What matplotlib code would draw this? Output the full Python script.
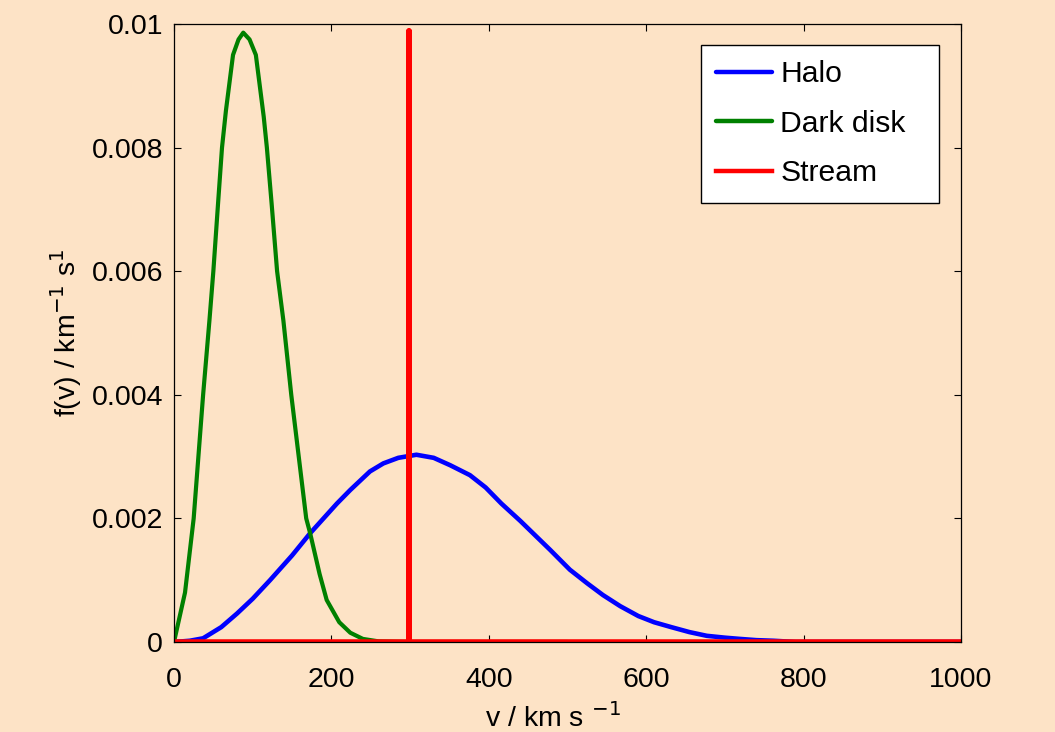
import matplotlib
matplotlib.use("Agg")
import matplotlib.pyplot as plt

# ---- data ----
halo_v = [0, 20, 37, 60, 80, 100, 122, 150, 173, 190, 207, 224, 249, 266, 285,
          308, 330, 351, 376, 396, 416, 440, 461, 478, 503, 525, 545, 567, 590,
          610, 632, 655, 677, 700, 719, 740, 762, 790, 1000]
halo_f = [0, 0.00002, 0.00006, 0.00024, 0.00046, 0.00070, 0.00100, 0.00140,
          0.00176, 0.00200, 0.00224, 0.00246, 0.00276, 0.00289, 0.00298,
          0.00303, 0.00298, 0.00286, 0.00270, 0.00250, 0.00224, 0.00196,
          0.00170, 0.00149, 0.00117, 0.00095, 0.00076, 0.00058, 0.00042,
          0.00032, 0.00024, 0.00016, 0.00010, 0.00007, 0.00005, 0.00003,
          0.00002, 0.0, 0.0]

disk_v = [0, 14, 25, 37, 45, 50, 56, 61, 66, 70, 75, 82, 88, 96, 104, 109, 114,
          118, 124, 131, 139, 149, 168, 173, 185, 194, 210, 224, 240, 260, 300, 500]
disk_f = [0, 0.0008, 0.0020, 0.0040, 0.0052, 0.0060, 0.0071, 0.0080, 0.0086,
          0.0090, 0.0095, 0.00975, 0.00986, 0.00975, 0.0095, 0.0090, 0.0085,
          0.0080, 0.0071, 0.0060, 0.0052, 0.0040, 0.0020, 0.00176, 0.0011,
          0.00068, 0.00032, 0.00015, 0.00005, 0.00001, 0.0, 0.0]

stream_v = [0, 298, 298, 298, 1000]
stream_f = [0, 0, 0.00989, 0, 0]

labels = ["Halo", "Dark disk", "Stream"]
colors = ["#0000ff", "#008000", "#ff0000"]

xticks = [0, 200, 400, 600, 800, 1000]
yticks = [0, 0.002, 0.004, 0.006, 0.008, 0.01]
yticklabels = ["0", "0.002", "0.004", "0.006", "0.008", "0.01"]

bg = "#fde3c6"
plt.rcParams["font.family"] = ["Liberation Sans", "DejaVu Sans"]

fig = plt.figure(figsize=(10.55, 7.32), dpi=100, facecolor=bg)
ax = fig.add_axes([174 / 1055, 90 / 732, 787 / 1055, 618 / 732], facecolor=bg)

ax.plot(halo_v, halo_f, color=colors[0], lw=3.3, label=labels[0],
        solid_joinstyle="round", solid_capstyle="round")
ax.plot(disk_v, disk_f, color=colors[1], lw=3.0, label=labels[1],
        solid_joinstyle="round", solid_capstyle="round")
ax.plot(stream_v, stream_f, color=colors[2], lw=4.0, label=labels[2])

ax.set_xlim(0, 1000)
ax.set_ylim(0, 0.01)
ax.set_xticks(xticks)
ax.set_xticklabels([str(t) for t in xticks])
ax.set_yticks(yticks)
ax.set_yticklabels(yticklabels)

ax.tick_params(direction="in", length=5, width=0.8, top=True, right=True,
               labelsize=20.5, colors="black")
ax.tick_params(axis="x", pad=18)
ax.tick_params(axis="y", pad=8)
for s in ax.spines.values():
    s.set_linewidth(0.9)
    s.set_color("black")

ax.set_xlabel("v / km s $^{-1}$", fontsize=20.5)
ax.xaxis.set_label_coords(0.482, -0.099)
ax.set_ylabel("f(v) / km$^{-1}$ s$^{1}$", fontsize=20.5)
ax.yaxis.set_label_coords(-0.114, 0.5)

x0 = (701 - 174) / 787
w = (939 - 701) / 787
ytop = (642 - 45) / 618
leg = ax.legend(loc="upper left", bbox_to_anchor=(x0, ytop - 0.3, w, 0.3),
                mode="expand", borderaxespad=0,
                fontsize=21.7, frameon=True, fancybox=False, edgecolor="black",
                facecolor="white", framealpha=1, handlelength=1.85,
                handletextpad=0.28, labelspacing=0.72, borderpad=0.5)
leg.get_frame().set_linewidth(1.0)
for h in leg.get_lines():
    h.set_linewidth(3.2)

fig.savefig("out.png", dpi=100, facecolor=bg)
